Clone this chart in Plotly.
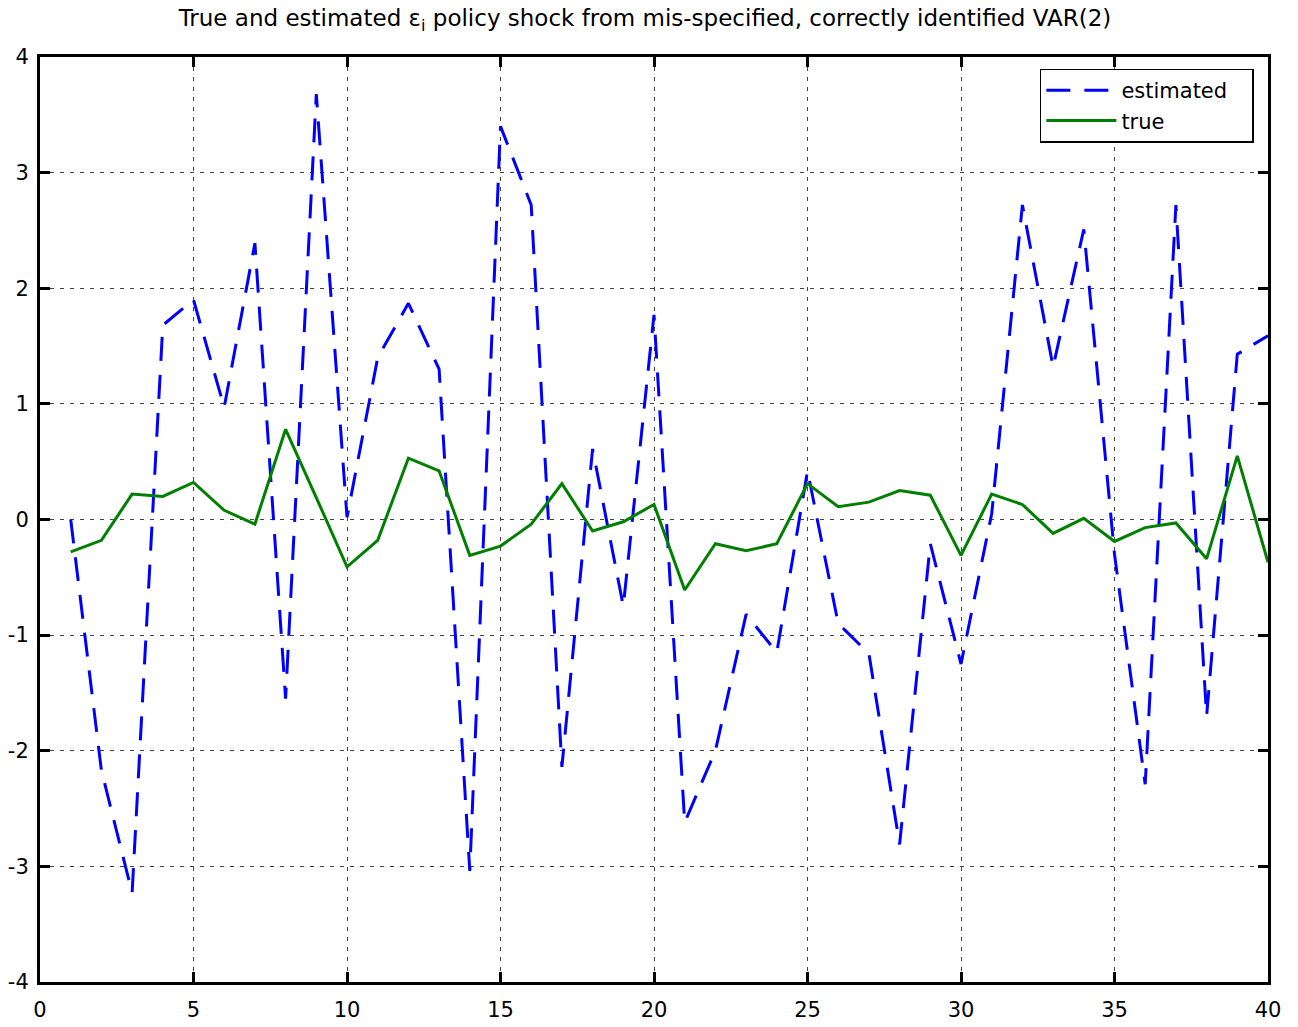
import plotly.graph_objects as go

# ---- data ----
periods = list(range(1, 41))
estimated = [0.0, -2.17, -3.23, 1.68, 1.9, 0.97, 2.39, -1.55, 3.68, 0.02,
             1.4, 1.87, 1.3, -3.04, 3.4, 2.72, -2.14, 0.61, -0.75, 1.77,
             -2.62, -2.0, -0.82, -1.15, 0.42, -0.9, -1.16, -2.81, -0.21, -1.25,
             0.05, 2.72, 1.32, 2.51, -0.3, -2.29, 2.72, -1.70, 1.43, 1.59]
true_shock = [-0.28, -0.18, 0.22, 0.20, 0.32, 0.08, -0.04, 0.78, 0.19, -0.41,
              -0.18, 0.53, 0.42, -0.31, -0.23, -0.04, 0.31, -0.10, -0.02, 0.13,
              -0.61, -0.21, -0.27, -0.21, 0.31, 0.11, 0.15, 0.25, 0.21, -0.31,
              0.22, 0.13, -0.12, 0.01, -0.19, -0.07, -0.03, -0.34, 0.55, -0.37]
series_names = ["estimated", "true"]
x_ticks = [0, 5, 10, 15, 20, 25, 30, 35, 40]
y_ticks = [-4, -3, -2, -1, 0, 1, 2, 3, 4]
y_tick_labels = ["-4", "-3", "-2", "-1", "0", "1", "2", "3", "4"]
title_text = ("True and estimated ε<sub>i</sub> "
              "policy shock from mis-specified, correctly identified VAR(2)")

FONT = "DejaVu Sans, Liberation Sans, Arial, sans-serif"
PAD = "\u00a0\u00a0\u00a0"  # right padding inside the legend box

fig = go.Figure()
fig.add_trace(go.Scatter(
    x=periods, y=estimated, mode="lines", name=series_names[0] + PAD,
    line=dict(color="#0000FF", width=3, dash="24px,14px"),
))
fig.add_trace(go.Scatter(
    x=periods, y=true_shock, mode="lines", name=series_names[1],
    line=dict(color="#007F00", width=3),
))

axis_common = dict(
    showline=True, linecolor="black", linewidth=3, mirror="allticks",
    ticks="inside", ticklen=10, tickwidth=3, tickcolor="black",
    showgrid=True, gridcolor="#444444", gridwidth=1, griddash="4px,6px",
    zeroline=False, automargin=False,
    tickfont=dict(family=FONT, size=21, color="black"),
)

fig.update_layout(
    width=1298, height=1027,
    margin=dict(l=40, r=30, t=57, b=45),
    paper_bgcolor="white", plot_bgcolor="white",
    title=dict(text=title_text, font=dict(family=FONT, size=23, color="black"),
               x=645 / 1298, xanchor="center", xref="container",
               y=1 - 18 / 1027, yanchor="middle", yref="container"),
    xaxis=dict(range=[0, 40], tickvals=x_ticks, ticklabelstandoff=7, **axis_common),
    yaxis=dict(range=[-4, 4], tickvals=y_ticks, ticktext=y_tick_labels,
               ticklabelstandoff=4, **axis_common),
    legend=dict(x=0.9885, y=0.9875, xanchor="right", yanchor="top",
                bgcolor="white", bordercolor="black", borderwidth=1.5,
                font=dict(family=FONT, size=21, color="black"),
                itemwidth=70, tracegroupgap=0),
    showlegend=True,
)

fig.write_html("out.html", config={"displayModeBar": False},
               post_script="document.body.style.margin='0';document.body.style.overflow='hidden';")
